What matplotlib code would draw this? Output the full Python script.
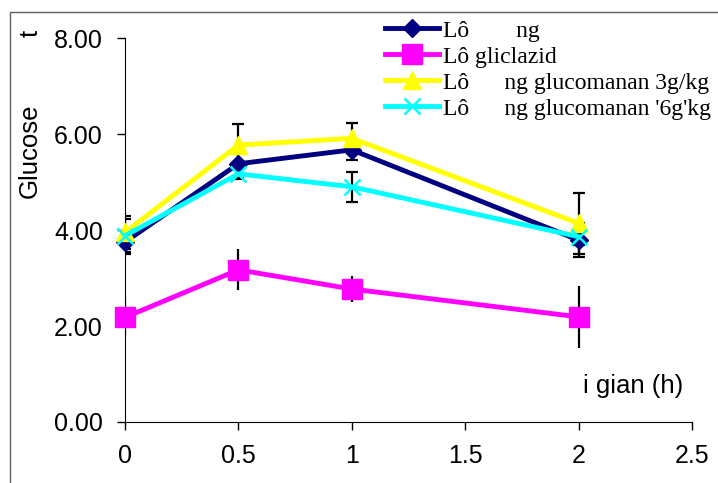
import matplotlib
matplotlib.use('Agg')
import matplotlib.pyplot as plt
from matplotlib.patches import Rectangle
from matplotlib.ticker import FormatStrFormatter

plt.rcParams['font.family'] = ['Liberation Sans', 'DejaVu Sans']

# thoi gian (h)
hours = [0, 0.5, 1, 2]

ctrl = [3.75, 5.38, 5.67, 3.79]
ctrl_err = [0.25, 0.30, 0.22, 0.36]
glic = [2.18, 3.17, 2.77, 2.19]
glic_err = [0.38, 0.43, 0.28, 0.65]
gluco3 = [3.95, 5.77, 5.91, 4.14]
gluco3_err = [0.34, 0.44, 0.31, 0.64]
gluco6 = [3.88, 5.17, 4.90, 3.86]
gluco6_err = [0.34, 0.10, 0.31, 0.17]

labels = ["Lô        ng", "Lô gliclazid",
          "Lô      ng glucomanan 3g/kg", "Lô      ng glucomanan '6g'kg"]

fig = plt.figure(figsize=(7.18, 4.83), dpi=100)
ax = fig.add_axes([125 / 718, 0.1263, (692 - 125) / 718, 0.795])

# error bars behind the lines
ax.errorbar(hours, ctrl, yerr=ctrl_err, fmt='none', ecolor='black', elinewidth=1.6, capsize=4, capthick=1.6, zorder=1)
ax.errorbar(hours, glic, yerr=glic_err, fmt='none', ecolor='black', elinewidth=1.6, capsize=0, zorder=1)
ax.errorbar(hours, gluco3, yerr=gluco3_err, fmt='none', ecolor='black', elinewidth=1.6, capsize=4, capthick=1.6, zorder=1)
ax.errorbar(hours, gluco6, yerr=gluco6_err, fmt='none', ecolor='black', elinewidth=1.6, capsize=4, capthick=1.6, zorder=1)

ax.plot(hours, ctrl, color='#000080', lw=3.5, marker='D', ms=9, zorder=3, clip_on=False, label=labels[0])
ax.plot(hours, glic, color='#FF00FF', lw=3.5, marker='s', ms=14, zorder=3, clip_on=False, label=labels[1])
ax.plot(hours, gluco3, color='#FFFF00', lw=3.5, marker='^', ms=13, zorder=3, clip_on=False, label=labels[2])
ax.plot(hours, gluco6, color='#00FFFF', lw=3.5, marker='x', ms=11, mew=1.8, zorder=3, clip_on=False, label=labels[3])

ax.set_xlim(0, 2.5)
ax.set_ylim(0, 8)
ax.set_xticks([0, 0.5, 1, 1.5, 2, 2.5])
ax.set_xticklabels(['0', '0.5', '1', '1.5', '2', '2.5'])
ax.set_yticks([0, 2, 4, 6, 8])
ax.yaxis.set_major_formatter(FormatStrFormatter('%.2f'))
ax.tick_params(labelsize=18, length=6, width=1, direction='out', pad=10)
ax.spines['top'].set_visible(False)
ax.spines['right'].set_visible(False)
ax.patch.set_alpha(0)

fig.text(30 / 718, 1 - 151 / 483, "Glucose", rotation=90, fontsize=18.5, ha='center', va='center')
fig.text(31 / 718, 1 - 33 / 483, "t", rotation=90, fontsize=18.5, ha='center', va='center')
fig.text(683 / 718, 1 - 386 / 483, "i gian (h)", fontsize=18.5, ha='right', va='center')

leg = ax.legend(loc='upper left', bbox_to_anchor=(385 / 718, 1 - 20 / 483), bbox_transform=fig.transFigure,
                frameon=False, prop={'family': 'Liberation Serif', 'size': 17},
                handlelength=2.3, handletextpad=0.15, labelspacing=0.19, borderpad=0, borderaxespad=0)

fig.add_artist(Rectangle((10 / 718, -0.1), 1.0, 1 - 12 / 483 + 0.1, transform=fig.transFigure,
                         fill=False, lw=1, ec='#606060'))

plt.savefig('out.png', dpi=100)
